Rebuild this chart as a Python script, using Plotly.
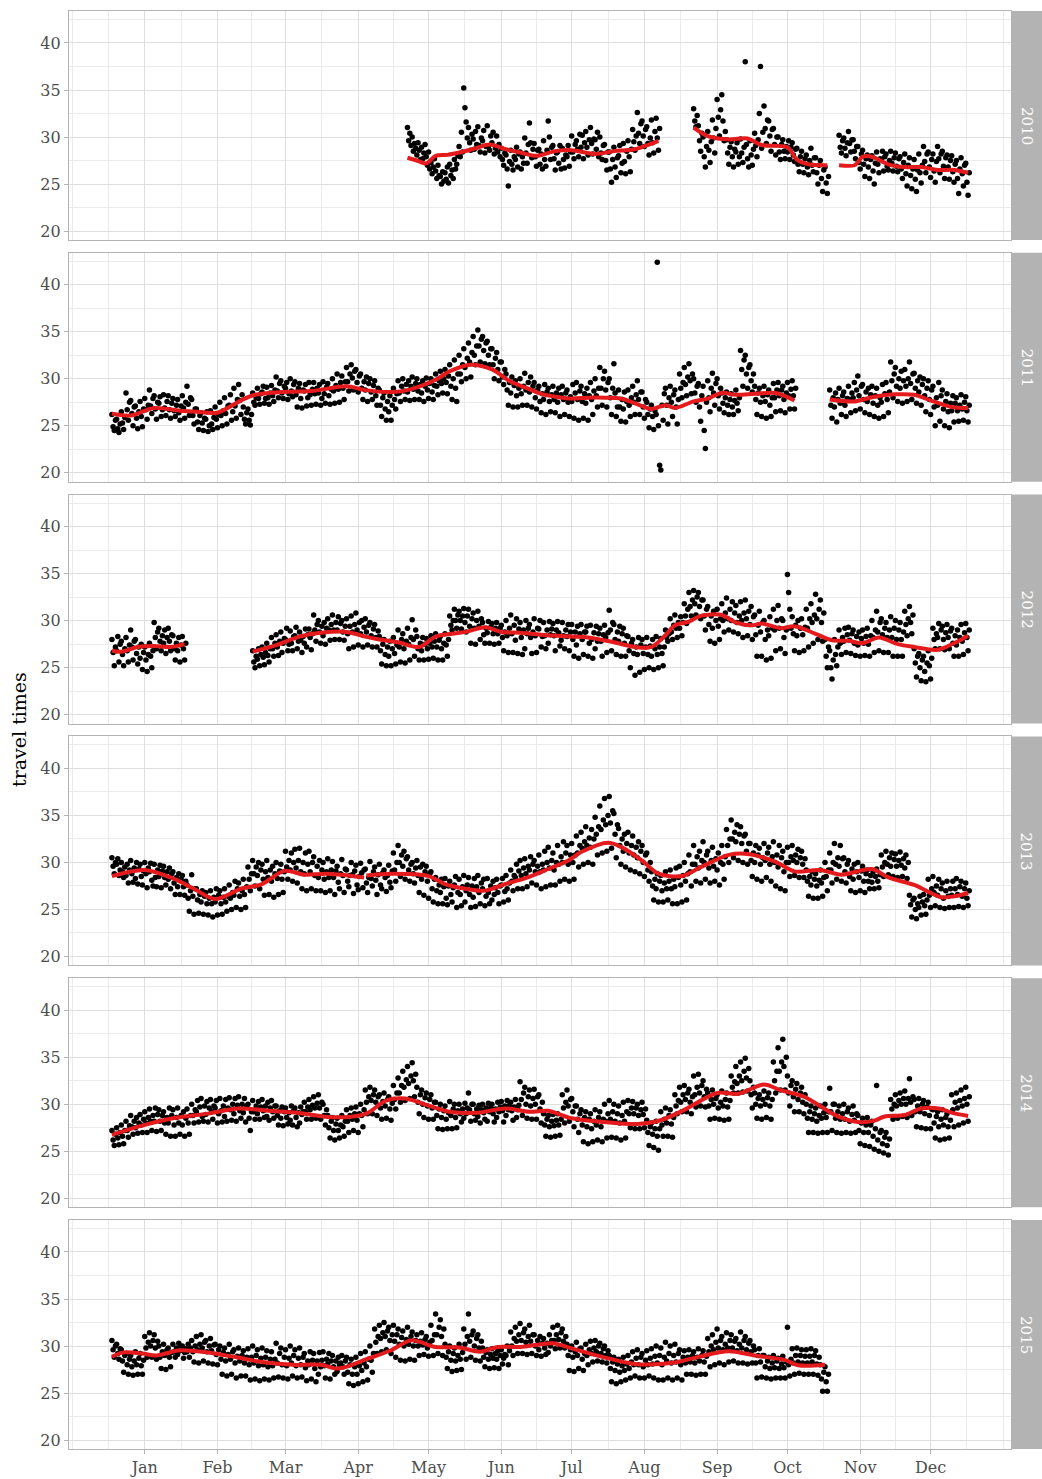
import pandas as pd
import plotly.graph_objects as go

# ---------------- data ----------------
# Day index = days since Jan 1 of a (leap) reference year. Observations are
# stored in tenths of a minute, four readings per two-day step.
years = ["2010", "2011", "2012", "2013", "2014", "2015"]
month_labels = ["Jan", "Feb", "Mar", "Apr", "May", "Jun",
                "Jul", "Aug", "Sep", "Oct", "Nov", "Dec"]
month_tick_days = [14, 45, 74, 105, 135, 166, 196, 227, 258, 288, 319, 349]
y_ticks = [20, 25, 30, 35, 40]

pts_2010_a_start = 126
pts_2010_a = [310,296,304,291, 300,285,293,288, 281,294,286,276, 289,277,283,292, 279,270,284,266,
 273,261,268,277, 264,256,270,259, 258,250,263,253, 262,255,268,251, 271,259,265,256,
 276,266,271,280, 290,279,305,284, 352,331,316,299, 310,294,286,303, 298,287,306,292,
 311,291,284,299, 296,307,283,290, 312,290,286,301, 294,305,282,288, 301,284,292,279,
 288,276,270,283, 281,266,248,274, 286,271,265,279, 276,289,268,282, 284,266,279,272,
 299,283,272,292, 315,294,278,287, 293,279,269,286, 287,271,282,266, 296,276,269,286,
 317,300,276,289, 291,277,265,283, 284,272,291,266, 288,276,267,281, 279,291,269,284,
 301,284,277,292, 296,287,279,303, 289,302,277,294, 306,289,281,297, 310,293,282,298,
 297,287,305,279, 300,283,276,291, 292,275,265,284, 284,266,252,276, 289,268,257,278,
 280,291,262,272, 293,274,261,285, 296,279,263,287, 308,295,286,301, 326,304,293,314,
 317,301,290,308, 311,293,281,299, 318,294,283,306, 320,299,286,309]
pts_2010_b_start = 248
pts_2010_b = [330,317,311,323, 312,296,285,304, 300,279,268,290, 306,286,273,295, 318,299,283,309,
 340,321,301,329, 345,317,296,306, 297,283,271,289, 295,279,268,287, 284,294,271,279,
 298,283,273,289, 380,292,277,268, 296,281,270,287, 304,291,279,297, 325,375,288,305,
 333,309,293,318, 317,301,285,308, 309,292,281,300, 300,284,276,292, 297,285,277,290,
 284,296,276,289, 294,281,274,287, 288,271,263,279, 285,271,262,277, 281,268,260,275,
 288,270,263,278, 278,262,250,270, 275,256,242,265, 268,251,240,258]
pts_2010_c_start = 310
pts_2010_c = [302,289,283,296, 299,288,280,294, 306,293,284,297, 297,285,277,290, 290,273,266,282,
 286,271,258,277, 281,268,256,276, 280,264,250,272, 284,271,262,277, 276,285,264,279,
 282,269,265,275, 285,272,264,278, 283,269,263,277, 279,266,256,273, 282,261,248,270,
 278,259,245,266, 276,255,242,265, 282,262,251,270, 290,274,262,282, 284,268,257,276,
 282,264,252,274, 290,277,262,282, 285,269,256,278, 281,268,255,275, 280,263,252,271,
 275,256,240,266, 278,261,248,270, 272,252,238,262]

pts_2011_a_start = 0
pts_2011_a = [262,249,245,256, 257,247,243,252, 265,253,246,259, 285,267,256,275, 277,263,250,270,
 271,258,247,265, 276,260,249,268, 279,267,257,272, 288,271,263,279, 282,268,257,275,
 274,281,260,267, 283,269,261,276, 282,267,258,274, 279,266,260,272, 278,264,256,271,
 282,269,258,275, 292,273,261,280, 278,261,252,268, 268,254,246,261, 264,253,245,258,
 257,265,244,250, 266,252,246,259, 270,257,248,262, 275,261,250,266, 280,263,252,271,
 272,283,256,265, 290,271,258,278, 294,277,262,283, 270,257,252,264, 268,256,251,262,
 285,275,272,280, 290,279,273,284, 286,292,274,279, 291,280,273,285, 293,282,276,288,
 302,287,280,295, 298,285,279,292, 290,296,278,284, 300,287,281,294, 297,283,270,290,
 295,279,269,288, 287,294,271,280, 296,283,272,289, 296,284,273,290, 285,294,272,279,
 297,284,274,291, 295,282,273,289, 300,287,274,293, 305,289,275,296, 303,290,278,297,
 312,297,287,305, 315,301,288,308, 310,296,286,303, 305,290,278,297, 288,302,276,295,
 300,286,278,293, 298,282,272,290, 288,272,260,280, 285,268,256,276, 265,282,256,272,
 290,278,268,284, 298,285,276,292, 300,287,278,294, 286,298,277,292, 302,289,278,295,
 300,287,278,294, 285,298,276,292, 301,288,279,295, 300,286,278,293, 305,292,283,298,
 308,295,285,300, 310,296,284,303, 315,292,278,300, 320,290,276,305, 325,305,297,315,
 332,312,300,322, 338,318,302,328, 345,325,315,335, 352,335,318,342, 345,330,316,338,
 340,325,315,332, 332,315,300,322, 328,310,298,318, 318,302,294,310, 305,288,272,296,
 285,302,270,293, 298,282,270,290, 300,284,272,292, 306,288,272,296, 286,302,270,292,
 296,280,268,288, 292,276,264,284, 278,294,262,286, 290,276,265,283, 292,278,264,285,
 275,290,260,283, 292,278,262,285, 288,275,260,281, 276,294,258,285, 296,278,256,287,
 292,276,258,284, 274,290,256,282, 296,278,262,287, 300,282,270,290, 312,290,272,300,
 308,288,270,296, 300,280,262,290, 316,285,260,270, 288,270,255,278, 268,286,254,276,
 288,272,260,280, 292,275,262,283, 298,278,262,286, 286,270,258,278, 275,262,248,268,
 272,260,246,266, 262,424,250,208, 203,272,256,284, 290,272,252,280, 292,275,260,283,
 288,270,252,278, 305,290,280,296, 312,294,282,302, 316,298,284,305, 300,285,275,292,
 295,270,255,282, 292,245,226,275, 298,280,265,290, 306,285,272,295, 300,282,268,290,
 285,274,264,280, 286,272,262,278, 284,270,262,277, 288,274,266,280, 330,310,292,320,
 325,305,290,312, 315,298,286,305, 292,278,262,285, 290,275,260,282, 292,276,258,283,
 288,272,260,280, 295,280,265,288, 296,282,266,288, 292,278,264,285, 296,282,268,289,
 298,282,268,290]
pts_2011_b_start = 306
pts_2011_b = [288,272,258,280, 270,285,254,278, 290,274,262,282, 286,272,260,279, 292,278,264,285,
 280,296,266,288, 303,282,268,292, 294,278,264,286, 276,290,262,283, 292,274,260,282,
 290,272,258,280, 275,294,260,284, 296,278,264,286, 318,298,280,305, 312,292,276,300,
 290,308,274,298, 310,292,276,300, 318,295,278,305, 306,290,274,298, 286,302,272,294,
 300,282,265,290, 298,278,262,288, 292,270,250,280, 272,296,255,282, 288,268,250,276,
 284,265,248,274, 266,282,254,274, 280,266,255,272, 283,268,256,275, 281,266,254,272]

pts_2012_a_start = 0
pts_2012_a = [280,266,252,272, 268,283,256,275, 278,264,252,270, 282,268,256,274, 290,272,258,278,
 280,265,254,272, 260,275,248,266, 272,258,246,264, 276,262,250,268, 298,282,270,288,
 292,278,268,284, 276,290,265,282, 292,278,268,285, 284,270,258,276, 268,282,256,274,
 283,270,258,276]
pts_2012_b_start = 60
pts_2012_b = [268,256,250,262, 259,270,252,264, 272,261,253,266, 276,263,256,270, 282,270,262,276,
 285,272,263,278, 288,266,276,281, 280,292,268,275, 289,276,268,283, 284,293,270,278,
 288,279,266,283, 276,291,272,285, 291,282,269,286, 306,290,278,296, 300,288,276,294,
 284,298,275,292, 302,290,279,296, 306,290,280,298, 290,304,280,297, 300,288,279,294,
 302,286,270,294, 305,288,272,296, 308,290,274,298, 286,300,272,293, 302,288,274,295,
 298,284,272,291, 296,282,272,289, 283,268,254,275, 280,264,252,272, 262,278,252,270,
 282,265,254,274, 290,272,256,280, 286,270,255,278, 292,275,258,282, 301,280,262,290,
 283,270,258,276, 268,282,258,275, 281,270,259,276, 284,272,260,278, 286,272,258,279,
 283,270,258,276, 286,274,262,280, 305,295,290,300, 312,300,292,306, 310,300,291,305,
 313,298,288,305, 312,294,276,302, 308,292,275,300, 310,294,280,302, 298,285,276,292,
 287,299,276,293, 297,286,275,292, 298,286,276,292, 295,282,268,288, 300,284,266,292,
 306,286,266,295, 279,302,265,291, 298,282,264,290, 270,300,286,292, 296,282,265,288,
 302,284,266,292, 291,300,272,283, 298,284,270,290, 276,299,285,291, 297,284,268,290,
 299,287,273,279, 298,284,270,290, 283,296,268,288, 296,280,262,288, 274,294,260,286,
 296,280,264,288, 288,294,262,276, 295,280,260,287, 270,294,278,286, 292,278,262,285,
 295,282,266,287, 311,290,268,298, 296,280,264,288, 278,294,262,286, 292,276,262,284,
 283,268,250,276, 280,265,242,272, 264,282,245,274, 280,265,248,272, 282,264,250,273,
 262,280,248,270, 283,264,250,272, 281,265,252,272, 290,282,278,286, 302,288,280,295,
 306,292,282,298, 292,304,284,298, 318,305,297,312, 330,315,305,322, 332,318,306,325,
 330,315,302,322, 322,305,290,312, 315,296,278,305, 292,310,276,300, 312,294,280,302,
 318,300,288,308, 324,302,290,312, 300,320,288,308, 316,298,286,305, 320,300,282,308,
 322,302,284,310, 296,315,280,304, 306,285,262,295, 310,288,262,298, 300,280,258,290,
 284,304,260,292, 312,290,268,300, 316,292,270,302, 300,282,265,290, 349,330,312,292,
 304,286,268,295, 284,300,266,292, 302,285,268,293, 312,292,272,302, 318,298,276,306,
 328,302,280,312, 322,298,278,308, 280,262,250,272, 268,250,238,258, 280,264,252,272,
 290,276,264,282, 278,292,266,285, 293,279,265,286, 290,276,263,283, 274,288,262,281,
 290,276,263,283, 292,275,262,284, 300,282,266,290, 310,288,268,298, 302,285,266,292,
 298,282,266,290, 304,282,262,292, 300,280,262,290, 298,280,262,288, 310,296,284,302,
 315,298,286,306, 270,255,240,262, 265,250,236,258, 262,246,235,255, 268,252,238,260,
 292,280,270,286, 282,297,270,290, 294,280,269,287, 296,282,270,289, 292,276,262,284,
 274,290,262,282, 296,278,264,287, 297,282,268,290]

pts_2013_start = 0
pts_2013 = [305,296,288,300, 298,304,286,292, 300,290,284,295, 286,298,278,292, 302,288,279,294,
 283,300,277,293, 298,285,276,291, 300,288,273,294, 290,299,281,275, 298,284,274,292,
 285,297,273,291, 296,284,276,290, 282,294,272,288, 290,278,266,284, 274,288,266,282,
 286,274,265,280, 276,262,248,270, 287,264,245,272, 272,260,246,266, 258,270,245,264,
 268,256,244,262, 270,256,242,263, 258,272,244,265, 270,256,245,263, 272,258,248,264,
 276,262,250,268, 265,280,252,272, 278,264,250,270, 282,266,252,274, 295,282,270,288,
 302,288,275,295, 286,300,272,292, 298,282,265,290, 302,284,266,292, 280,296,263,288,
 300,283,266,291, 298,282,268,290, 312,295,282,302, 292,310,280,300, 314,294,278,302,
 315,290,272,300, 288,310,270,298, 312,290,272,300, 306,286,270,296, 284,302,270,292,
 300,282,268,290, 304,284,270,292, 301,284,266,291, 296,279,272,288, 303,286,268,293,
 292,280,274,286, 300,287,267,291, 297,276,271,285, 299,289,273,292, 293,278,268,284,
 301,283,275,290, 295,281,266,287, 298,276,272,289, 292,284,269,286, 297,279,273,291,
 310,292,280,300, 318,300,285,308, 296,312,282,304, 306,292,280,298, 300,288,278,294,
 302,286,268,295, 282,298,265,290, 296,280,262,288, 290,272,258,282, 284,270,256,276,
 268,282,256,274, 283,262,255,275, 280,266,258,273, 276,285,252,268, 282,266,254,274,
 286,258,270,276, 284,266,252,275, 263,283,253,274, 286,268,256,278, 272,282,254,264,
 283,268,256,275, 260,280,266,273, 282,268,256,275, 276,283,258,269, 286,272,260,278,
 292,280,270,286, 284,298,272,291, 302,286,272,294, 304,288,274,296, 292,306,278,298,
 302,290,276,296, 308,290,272,298, 292,312,274,300, 316,294,276,302, 310,292,276,300,
 318,298,280,306, 300,322,282,310, 318,298,280,308, 320,300,282,308, 328,310,295,318,
 332,315,298,322, 338,318,300,326, 316,335,298,325, 348,330,308,338, 360,335,310,345,
 368,340,312,350, 370,342,315,355, 352,330,305,340, 336,318,298,325, 312,330,295,320,
 332,310,292,318, 328,308,290,316, 305,322,288,312, 318,300,285,308, 310,292,280,300,
 290,275,260,282, 272,288,258,280, 286,270,258,278, 290,272,260,280, 292,272,256,282,
 274,294,256,284, 296,276,258,286, 300,280,260,288, 308,290,275,298, 318,298,280,306,
 294,312,278,302, 322,300,282,308, 312,294,278,302, 316,296,280,304, 292,310,276,300,
 318,298,282,306, 335,318,300,325, 345,325,305,332, 322,340,302,330, 338,320,300,328,
 330,312,298,320, 320,302,285,310, 300,318,282,308, 315,298,280,305, 320,302,284,310,
 316,298,280,306, 322,300,275,308, 295,318,272,305, 312,290,270,300, 316,300,285,306,
 318,302,286,308, 300,314,284,305, 312,298,284,304, 292,280,264,285, 276,290,262,282,
 288,275,262,281, 292,278,264,284, 300,285,270,292, 310,292,278,300, 320,298,282,305,
 296,318,280,304, 305,290,278,298, 302,285,270,293, 282,298,268,290, 300,284,270,291,
 296,280,268,288, 292,280,272,286, 279,290,272,285, 293,280,273,287, 308,295,285,300,
 312,298,287,305, 296,310,285,303, 309,296,284,302, 311,297,285,304, 294,308,283,300,
 265,255,242,260, 262,250,240,256, 252,264,244,258, 266,254,245,260, 282,265,252,272,
 285,268,254,275, 265,282,252,272, 278,262,251,270, 280,264,252,272, 265,280,252,272,
 283,266,253,274, 280,264,252,272, 278,262,254,270]

pts_2014_start = 0
pts_2014 = [272,262,256,268, 275,264,257,270, 278,266,258,272, 282,272,265,277, 288,276,268,282,
 275,286,269,280, 289,278,270,284, 292,280,270,286, 295,282,272,288, 282,296,271,289,
 294,282,272,288, 292,280,268,286, 280,296,266,288, 294,278,266,286, 296,280,268,288,
 278,292,266,285, 295,280,268,288, 300,288,280,294, 292,304,281,297, 306,287,282,298,
 289,303,281,296, 305,292,284,298, 296,304,280,290, 306,293,281,298, 287,305,282,296,
 307,294,283,300, 290,306,282,299, 308,293,285,300, 291,306,281,298, 300,285,272,292,
 304,292,284,298, 290,303,284,297, 305,293,286,298, 287,302,283,296, 304,292,285,298,
 298,288,278,293, 285,297,277,292, 296,286,279,291, 283,298,278,293, 296,286,276,291,
 280,297,289,292, 302,292,284,297, 305,294,284,299, 308,296,285,301, 310,296,284,302,
 300,288,278,294, 288,275,264,282, 286,272,262,279, 285,272,264,278, 288,276,266,282,
 294,282,270,288, 296,284,272,290, 297,283,270,290, 300,288,276,294, 315,302,290,308,
 318,304,290,310, 315,302,288,308, 310,296,284,303, 312,298,285,305, 308,295,283,301,
 320,305,295,312, 328,312,302,320, 335,318,304,326, 340,322,306,330, 344,325,308,332,
 318,302,290,310, 315,300,286,307, 312,298,284,305, 310,296,284,302, 302,288,274,295,
 300,286,273,293, 298,284,274,291, 303,288,274,295, 300,286,275,293, 300,290,281,295,
 285,301,290,296, 312,294,282,300, 300,290,283,295, 287,299,280,294, 300,291,284,296,
 282,301,292,296, 300,290,281,295, 286,302,292,297, 303,293,281,298, 288,304,294,299,
 302,293,283,297, 305,286,294,299, 324,305,288,312, 318,300,285,308, 315,298,284,306,
 316,300,284,308, 310,295,280,302, 290,278,266,284, 288,276,265,282, 289,277,266,283,
 290,278,267,284, 310,296,280,302, 315,298,282,305, 306,292,276,298, 298,284,270,290,
 294,278,260,286, 292,276,258,284, 290,274,260,282, 294,278,262,286, 292,276,260,284,
 300,282,264,290, 304,284,265,292, 300,282,264,290, 298,280,262,288, 302,282,264,292,
 304,290,275,296, 303,290,274,296, 300,288,274,294, 302,289,275,295, 283,270,256,276,
 280,268,254,274, 282,266,251,274, 292,278,266,284, 296,280,266,288, 294,279,265,286,
 310,298,290,304, 318,302,292,310, 320,305,292,312, 316,302,290,308, 330,310,297,318,
 332,312,298,320, 325,308,297,316, 312,298,284,305, 315,300,285,306, 310,296,284,302,
 314,298,283,305, 312,297,284,304, 330,318,312,324, 340,322,312,330, 345,325,313,335,
 349,328,314,338, 325,310,296,318, 312,300,285,306, 310,298,284,305, 314,300,286,307,
 312,298,284,305, 345,325,312,335, 360,335,315,345, 369,340,315,350, 330,312,298,320,
 325,308,292,316, 322,305,292,312, 318,302,290,310, 300,285,270,292, 298,284,270,290,
 296,282,269,288, 298,285,270,291, 300,286,270,292, 317,292,272,300, 300,285,270,292,
 298,284,269,290, 300,284,270,292, 296,282,269,289, 298,283,270,290, 288,272,258,280,
 285,270,256,278, 286,270,255,278, 282,266,252,274, 320,262,250,270, 272,258,248,265,
 270,256,246,263, 305,295,284,300, 310,298,285,304, 312,300,287,306, 314,300,286,306,
 327,302,288,308, 305,292,276,298, 306,292,275,300, 304,290,274,297, 302,288,274,295,
 294,280,264,287, 292,276,262,284, 294,278,263,286, 290,276,264,283, 310,294,276,302,
 312,296,278,304, 315,298,280,306, 318,300,282,308]

pts_2015_start = 0
pts_2015 = [306,296,288,300, 302,292,286,297, 296,284,272,290, 292,280,270,286, 290,278,269,284,
 294,280,270,287, 292,279,270,285, 310,298,288,304, 314,300,288,306, 312,298,286,305,
 300,288,276,294, 302,290,275,296, 298,288,278,293, 302,294,288,298, 291,303,295,299,
 300,287,293,297, 294,302,288,298, 306,294,283,300, 310,296,282,302, 312,298,284,304,
 306,294,282,300, 308,295,281,301, 302,291,280,296, 300,286,270,293, 298,284,268,291,
 302,286,270,294, 296,282,266,289, 298,284,268,290, 295,282,268,288, 297,280,264,288,
 300,282,265,290, 296,279,263,287, 298,280,265,288, 295,278,264,286, 294,279,266,286,
 303,282,267,292, 298,280,266,288, 296,279,265,287, 300,282,268,290, 296,279,266,287,
 298,280,267,288, 292,277,263,284, 280,294,265,285, 292,276,262,284, 270,293,278,285,
 294,279,266,286, 281,292,265,284, 290,278,270,284, 273,288,280,282, 290,278,270,284,
 288,272,260,280, 286,270,258,278, 288,270,260,279, 292,274,262,282, 294,278,264,286,
 300,285,272,292, 318,304,292,310, 322,308,294,314, 325,310,296,316, 320,306,292,312,
 322,305,288,312, 318,302,285,309, 316,300,284,307, 320,302,286,310, 315,300,285,306,
 312,300,290,305, 314,301,291,307, 310,298,289,304, 322,306,290,312, 334,312,292,320,
 328,310,290,318, 302,288,276,294, 300,285,273,292, 298,284,274,290, 302,286,275,293,
 318,302,286,310, 334,305,288,312, 316,300,285,308, 312,298,284,305, 298,288,278,293,
 296,286,276,291, 297,287,277,292, 286,295,276,290, 296,281,287,291, 290,300,280,295,
 315,300,290,308, 320,305,292,312, 324,306,292,314, 318,304,291,310, 322,305,292,312,
 312,300,290,306, 296,310,289,303, 308,298,291,303, 293,312,300,306, 320,306,297,312,
 322,307,298,314, 318,305,298,310, 302,290,274,296, 300,288,273,294, 304,290,276,297,
 298,286,274,292, 302,290,280,296, 305,292,283,298, 306,294,284,300, 303,292,283,297,
 300,290,282,295, 290,276,262,283, 288,274,260,281, 286,272,262,279, 288,274,264,281,
 290,276,266,283, 294,280,268,287, 296,280,266,288, 292,278,266,285, 295,280,268,287,
 297,281,266,289, 300,282,264,290, 298,280,264,288, 304,284,266,292, 300,282,264,290,
 302,283,266,292, 296,280,264,288, 295,282,270,288, 296,283,270,290, 294,282,269,288,
 297,284,270,290, 295,283,270,289, 308,294,278,300, 312,296,280,304, 318,298,282,306,
 310,296,280,302, 314,298,283,306, 312,298,284,305, 308,295,282,302, 315,298,282,306,
 310,296,281,303, 306,294,282,300, 296,282,266,290, 297,283,267,290, 290,278,266,284,
 288,276,265,282, 290,277,266,284, 287,276,266,281, 289,277,266,283, 320,280,268,286,
 297,282,270,290, 298,283,271,290, 296,282,270,289, 296,282,270,289, 297,283,270,290,
 295,281,269,288, 280,265,252,272, 278,262,252,270]

# smoothed trend (red line), knots
fit_2010_a_days = [126, 130, 134, 138, 143, 149, 155, 161, 168, 175, 181, 189, 196, 206, 214, 223, 229, 233]
fit_2010_a_vals = [27.8, 27.5, 27.2, 28.0, 28.1, 28.4, 28.8, 29.2, 28.7, 28.3, 28.0, 28.5, 28.6, 28.2, 28.5, 28.7, 29.2, 29.6]
fit_2010_b_days = [248, 254, 263, 271, 277, 288, 292, 297, 305]
fit_2010_b_vals = [31.0, 30.1, 29.75, 29.85, 29.15, 28.9, 27.6, 27.1, 27.0]
fit_2010_c_days = [310, 316.6, 318.5, 320, 324, 331, 338, 345, 352, 359, 365]
fit_2010_c_vals = [27.0, 27.0, 27.5, 27.9, 27.9, 27.1, 26.8, 26.8, 26.5, 26.5, 26.2]

fit_2011_a_days = [0, 8, 18, 29, 36, 45, 55, 61, 73, 85, 100, 108, 120, 126, 138, 144, 153, 162, 170, 176,
                   183, 189, 196, 203, 210, 217, 223, 230, 236, 240, 248, 254, 260, 266, 274, 283, 291]
fit_2011_a_vals = [26.3, 26.1, 26.9, 26.6, 26.5, 26.4, 27.7, 28.3, 28.6, 28.7, 29.2, 28.8, 28.6, 28.8, 29.9, 30.8, 31.5, 31.0, 29.7, 29.1,
                   28.4, 28.1, 27.9, 28.0, 28.0, 27.9, 27.4, 26.8, 27.2, 26.9, 27.6, 27.9, 28.5, 28.3, 28.4, 28.5, 27.7]
fit_2011_b_days = [306, 316.6, 325, 334, 342, 349, 358, 365]
fit_2011_b_vals = [27.8, 27.6, 28.1, 28.35, 28.3, 27.7, 27.0, 26.9]

fit_2012_a_days = [0, 4, 11, 18, 25, 31]
fit_2012_a_vals = [26.8, 26.7, 27.2, 27.3, 27.2, 27.5]
fit_2012_b_days = [60, 70, 80, 89, 100, 108, 114, 122, 131, 138, 145, 151, 159, 166, 174, 183, 196, 203, 214, 223,
                   230, 236, 240, 246, 251, 260, 266, 273, 277, 285, 291, 300, 307, 314, 320, 327, 335, 342, 352, 359, 365]
fit_2012_b_vals = [26.7, 27.4, 28.3, 28.7, 28.8, 28.3, 28.0, 27.7, 27.2, 28.3, 28.6, 28.8, 29.3, 28.8, 28.7, 28.5, 28.3, 28.2, 27.7, 27.2,
                   27.2, 28.45, 29.5, 29.9, 30.5, 30.6, 29.8, 29.5, 29.7, 29.2, 29.4, 28.6, 27.9, 27.85, 27.6, 28.2, 27.5, 27.2, 26.9, 27.6, 28.4]

fit_2013_a_days = [0, 14, 26, 35, 44, 55, 64, 73.5, 82, 92, 107.5]
fit_2013_a_vals = [28.55, 29.2, 28.3, 27.2, 26.1, 27.2, 27.7, 29.1, 28.7, 28.8, 28.4]
fit_2013_b_days = [108.5, 119, 135, 142, 151, 159, 167.5, 176, 186, 194.6, 200, 211.6, 217, 226, 233, 243, 251, 263, 271, 283,
                   291, 302, 311, 324, 331, 342, 353.5, 359, 365]
fit_2013_b_vals = [28.6, 28.8, 28.55, 27.7, 27.2, 27.0, 27.7, 28.3, 29.3, 30.2, 31.1, 32.1, 31.65, 30.2, 28.8, 28.55, 29.5, 30.8, 30.9, 30.05,
                   29.05, 29.2, 28.7, 29.3, 28.4, 27.6, 26.3, 26.4, 26.75]

fit_2014_days = [0, 14, 26, 41, 54, 67, 79, 92, 101, 108.5, 117, 125, 135, 144, 156, 167.5, 178, 186, 196, 210,
                 224, 234, 244, 258, 267, 278, 285, 295, 309.5, 318, 325, 329.4, 338, 345, 353.5, 358, 365]
fit_2014_vals = [26.75, 27.8, 28.5, 29.0, 29.55, 29.3, 29.1, 28.65, 28.65, 29.0, 30.4, 30.6, 29.85, 29.2, 29.1, 29.55, 29.2, 29.3, 28.5, 28.1,
                 27.9, 28.3, 29.4, 31.2, 31.1, 32.1, 31.5, 30.8, 28.7, 28.1, 28.25, 28.7, 28.85, 29.55, 29.5, 29.1, 28.75]

fit_2015_days = [0, 4.4, 13, 19, 29, 41, 52, 64, 77.5, 89, 96.6, 108.5, 119, 127.6, 138, 148, 157, 164.5, 174, 183,
                 188, 196, 209, 223, 240, 250, 263, 274, 287, 292.5, 304]
fit_2015_vals = [28.85, 29.3, 29.2, 29.0, 29.55, 29.3, 28.85, 28.3, 28.0, 28.0, 27.6, 28.6, 29.55, 30.6, 29.9, 29.85, 29.4, 29.9, 29.9, 30.2,
                 30.3, 29.75, 28.85, 28.1, 28.25, 28.85, 29.45, 29.0, 28.5, 27.95, 28.0]

# table built from the named arrays above
point_segments = {
    "2010": [(pts_2010_a_start, pts_2010_a), (pts_2010_b_start, pts_2010_b), (pts_2010_c_start, pts_2010_c)],
    "2011": [(pts_2011_a_start, pts_2011_a), (pts_2011_b_start, pts_2011_b)],
    "2012": [(pts_2012_a_start, pts_2012_a), (pts_2012_b_start, pts_2012_b)],
    "2013": [(pts_2013_start, pts_2013)],
    "2014": [(pts_2014_start, pts_2014)],
    "2015": [(pts_2015_start, pts_2015)],
}
fit_segments = {
    "2010": [(fit_2010_a_days, fit_2010_a_vals), (fit_2010_b_days, fit_2010_b_vals), (fit_2010_c_days, fit_2010_c_vals)],
    "2011": [(fit_2011_a_days, fit_2011_a_vals), (fit_2011_b_days, fit_2011_b_vals)],
    "2012": [(fit_2012_a_days, fit_2012_a_vals), (fit_2012_b_days, fit_2012_b_vals)],
    "2013": [(fit_2013_a_days, fit_2013_a_vals), (fit_2013_b_days, fit_2013_b_vals)],
    "2014": [(fit_2014_days, fit_2014_vals)],
    "2015": [(fit_2015_days, fit_2015_vals)],
}

# ---------------- figure ----------------
BASE = pd.Timestamp("2000-01-01")


def day_to_date(d):
    return BASE + pd.Timedelta(days=float(d))


W, H = 1042, 1479
ML, MR, MT, MB = 69, 31, 11, 30
PW, PH_TOTAL = W - ML - MR, H - MT - MB
PANEL_H, GAP = 229.0, 12.8
FONT = "DejaVu Serif"
GRID_MAJOR, GRID_MINOR, BORDER = "#DEDEDE", "#EBEBEB", "#B3B3B3"

x_range = [day_to_date(-18.3), day_to_date(383.3)]
major_x = [day_to_date(d) for d in month_tick_days]
ext = [month_tick_days[0] - 31] + month_tick_days + [month_tick_days[-1] + 31]
minor_days = []
for a, b in zip(ext[:-1], ext[1:]):
    minor_days += [a, (a + b) / 2]
minor_days.append(ext[-1])
minor_x = [day_to_date(d) for d in minor_days]

fig = go.Figure()
layout = dict(width=W, height=H, margin=dict(l=ML, r=MR, t=MT, b=MB, autoexpand=False),
              paper_bgcolor="white", plot_bgcolor="white", showlegend=False,
              font=dict(family=FONT, color="#4D4D4D"))
shapes, annotations = [], []

for r, yr in enumerate(years):
    sfx = "" if r == 0 else str(r + 1)
    xa, ya = "x" + sfx, "y" + sfx
    xs, ys = [], []
    for start, vals in point_segments[yr]:
        for i in range(len(vals) // 4):
            for k in range(4):
                xs.append(day_to_date(start + 2 * i + 0.5 * k))
                ys.append(vals[4 * i + k] / 10.0)
    fig.add_trace(go.Scatter(x=xs, y=ys, mode="markers", xaxis=xa, yaxis=ya,
                             marker=dict(color="black", size=5.5, line=dict(width=0)),
                             hoverinfo="skip"))
    for days, vals in fit_segments[yr]:
        fig.add_trace(go.Scatter(x=[day_to_date(d) for d in days], y=vals, mode="lines",
                                 xaxis=xa, yaxis=ya,
                                 line=dict(color="#E41A1C", width=4, shape="spline", smoothing=0.9),
                                 hoverinfo="skip"))

    top = r * (PANEL_H + GAP)
    d1 = 1 - top / PH_TOTAL
    d0 = 1 - (top + PANEL_H) / PH_TOTAL
    bottom = r == len(years) - 1
    layout["xaxis" + sfx] = dict(
        domain=[0, 1], anchor=ya, type="date", range=x_range, automargin=False,
        tickmode="array", tickvals=major_x, ticktext=month_labels,
        showticklabels=bottom, ticks="outside" if bottom else "",
        ticklen=4, tickwidth=1, tickcolor=BORDER,
        tickfont=dict(family=FONT, size=16, color="#4D4D4D"),
        showgrid=True, gridcolor=GRID_MAJOR, gridwidth=1,
        minor=dict(tickvals=minor_x, showgrid=True, gridcolor=GRID_MINOR, gridwidth=1, ticks=""),
        showline=True, mirror=True, linecolor=BORDER, linewidth=1.2, zeroline=False)
    layout["yaxis" + sfx] = dict(
        domain=[d0, d1], anchor=xa, range=[19.05, 43.4], automargin=False,
        tickmode="array", tickvals=y_ticks, ticktext=[str(v) for v in y_ticks],
        ticks="outside", ticklen=4, tickwidth=1, tickcolor=BORDER,
        tickfont=dict(family=FONT, size=16, color="#4D4D4D"),
        showgrid=True, gridcolor=GRID_MAJOR, gridwidth=1,
        minor=dict(tickvals=[22.5, 27.5, 32.5, 37.5, 42.5], showgrid=True,
                   gridcolor=GRID_MINOR, gridwidth=1, ticks=""),
        showline=True, mirror=True, linecolor=BORDER, linewidth=1.2, zeroline=False)

    # facet strip on the right
    shapes.append(dict(type="rect", xref="paper", yref="paper",
                       x0=1.0 + 0.6 / PW, x1=(W - ML) / PW, y0=d0, y1=d1,
                       fillcolor="#B3B3B3", line=dict(width=0), layer="above"))
    annotations.append(dict(text=yr, xref="paper", yref="paper",
                            x=(1011 + 15.5 - ML) / PW, y=(d0 + d1) / 2,
                            showarrow=False, textangle=90, xanchor="center", yanchor="middle",
                            font=dict(family=FONT, size=15, color="white")))

annotations.append(dict(text="travel times", xref="paper", yref="paper",
                        x=(19 - ML) / PW, y=1 - (730 - MT) / PH_TOTAL,
                        showarrow=False, textangle=-90, xanchor="center", yanchor="middle",
                        font=dict(family=FONT, size=19, color="black")))

layout["shapes"] = shapes
layout["annotations"] = annotations
fig.update_layout(**layout)
fig.write_html("out.html", config={"displayModeBar": False},
               post_script="document.body.style.margin='0px';document.body.style.padding='0px';")
